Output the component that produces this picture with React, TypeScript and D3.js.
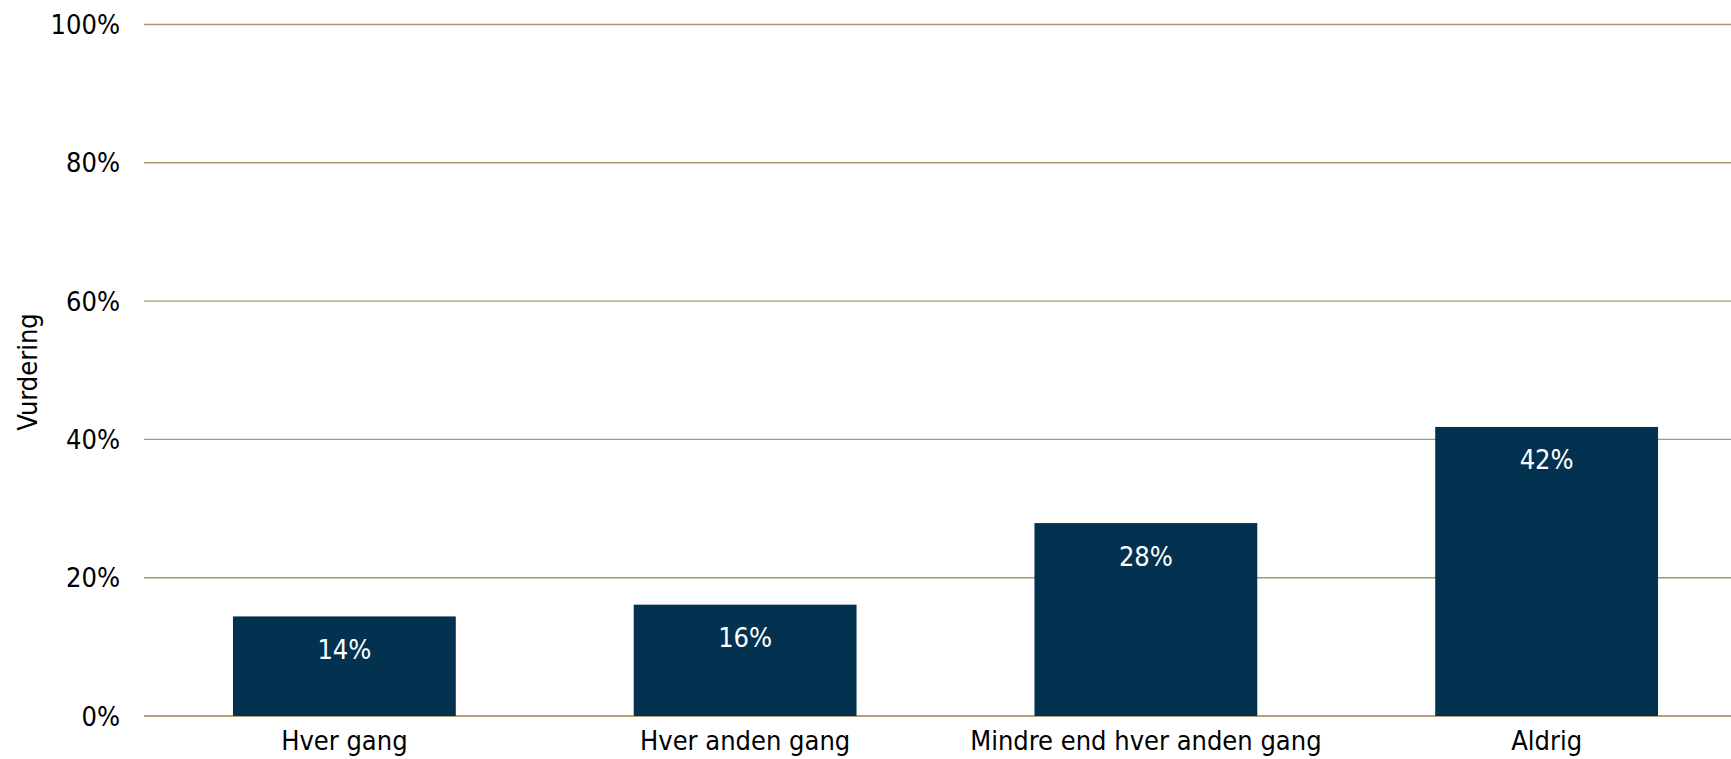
import React from "react";
import * as d3 from "d3";

const categories = ["Hver gang", "Hver anden gang", "Mindre end hver anden gang", "Aldrig"];
const values = [14.4, 16.1, 27.9, 41.8];
const valueLabels = ["14%", "16%", "28%", "42%"];
const yTicks = [0, 20, 40, 60, 80, 100];
const yTitle = "Vurdering";

const W = 1731;
const H = 759;
const FONT = "'DejaVu Sans Condensed', 'DejaVu Sans', sans-serif";
const FS = 27;

export default function App() {
  const left = 144;
  const right = 1747;
  const top = 24.5;
  const bottom = 716;

  const x = d3.scaleBand<string>().domain(categories).range([left, right]).paddingInner(0.444).paddingOuter(0.222);
  const y = d3.scaleLinear().domain([0, 100]).range([bottom, top]);

  return (
    <svg
      width={W}
      height={H}
      style={{ position: "absolute", left: 0, top: 0, background: "#fff" }}
      fontFamily={FONT}
    >
      {yTicks.map((t) => (
        <g key={t}>
          <line
            x1={left}
            x2={W}
            y1={y(t)}
            y2={y(t)}
            stroke={t === 0 ? "#9A8448" : "#A7996A"}
            strokeWidth={1.4}
          />
          <text
            x={120}
            y={y(t)}
            textAnchor="end"
            dominantBaseline="central"
            fontSize={FS}
            fontStretch="condensed"
            fill="#000"
          >
            {t}%
          </text>
        </g>
      ))}
      {categories.map((c, i) => {
        const bx = x(c)!;
        const bw = x.bandwidth();
        const by = y(values[i]);
        return (
          <g key={c}>
            <rect x={bx} y={by} width={bw} height={bottom - by} fill="#02324F" />
            <text
              x={bx + bw / 2}
              y={by + 33}
              textAnchor="middle"
              dominantBaseline="central"
              fontSize={FS}
              fontStretch="condensed"
              fill="#fff"
            >
              {valueLabels[i]}
            </text>
            <text
              x={bx + bw / 2}
              y={740}
              textAnchor="middle"
              dominantBaseline="central"
              fontSize={FS}
              fontStretch="condensed"
              fill="#000"
            >
              {c}
            </text>
          </g>
        );
      })}
      <text
        transform={`translate(27,372) rotate(-90)`}
        textAnchor="middle"
        dominantBaseline="central"
        fontSize={FS}
        fontStretch="condensed"
        fill="#000"
      >
        {yTitle}
      </text>
    </svg>
  );
}
